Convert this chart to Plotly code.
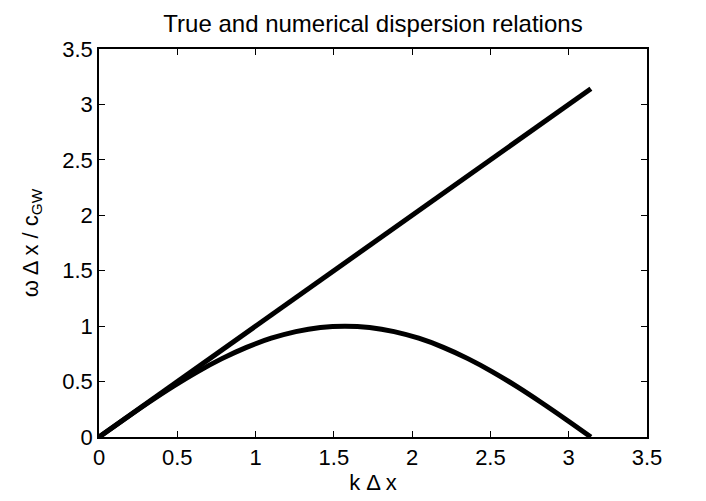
import plotly.graph_objects as go

k_true = [0.0, 3.1416]
w_true = [0.0, 3.1416]

k_num = [0.0, 0.157, 0.314, 0.471, 0.628, 0.785, 0.942, 1.100, 1.257, 1.414, 1.571,
         1.728, 1.885, 2.042, 2.199, 2.356, 2.513, 2.670, 2.827, 2.985, 3.1416]
w_num = [0.0, 0.156, 0.309, 0.454, 0.588, 0.707, 0.809, 0.891, 0.951, 0.988, 1.0,
         0.988, 0.951, 0.891, 0.809, 0.707, 0.588, 0.454, 0.309, 0.156, 0.0]

xticks = [0, 0.5, 1, 1.5, 2, 2.5, 3, 3.5]
yticks = [0, 0.5, 1, 1.5, 2, 2.5, 3, 3.5]

fig = go.Figure()
fig.add_trace(go.Scatter(x=k_true, y=w_true, mode="lines",
                         line=dict(color="black", width=5), showlegend=False))
fig.add_trace(go.Scatter(x=k_num, y=w_num, mode="lines",
                         line=dict(color="black", width=5, shape="spline"), showlegend=False))

font = "Liberation Sans, Arial, sans-serif"
axis_common = dict(showgrid=False, zeroline=False, showline=True, linecolor="black",
                   linewidth=1.5, mirror="ticks", ticks="inside", ticklen=6,
                   tickcolor="black", tickwidth=1,
                   tickfont=dict(family=font, size=22, color="black"))

fig.update_layout(
    width=706, height=501,
    margin=dict(l=91, r=67, t=41, b=72),
    paper_bgcolor="white", plot_bgcolor="white",
    title=dict(text="True and numerical dispersion relations", x=0.5, xref="paper",
               y=0.985, yref="container", yanchor="top",
               font=dict(family=font, size=24, color="black")),
    xaxis=dict(range=[0, 3.5], tickvals=xticks, ticktext=[str(t) for t in xticks],
               title=dict(text="k Δ x", font=dict(family=font, size=22, color="black"), standoff=2),
               **axis_common),
    yaxis=dict(range=[0, 3.5], tickvals=yticks, ticktext=[str(t) for t in yticks],
               title=dict(text="ω Δ x / c<sub>GW</sub>", font=dict(family=font, size=22, color="black"), standoff=18),
               **axis_common),
)
fig.write_html("out.html")
